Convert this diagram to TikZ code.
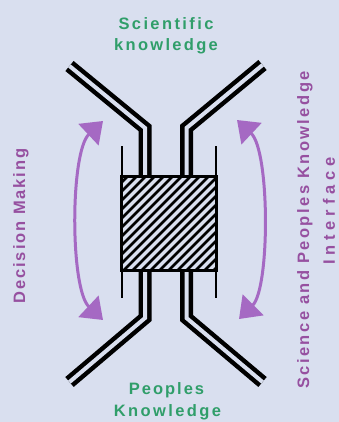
\documentclass[tikz,border=0pt]{standalone}
\usepackage{fontspec}
\setmainfont{Liberation Sans}
\usetikzlibrary{arrows.meta}
\definecolor{bgc}{RGB}{217,223,239}
\definecolor{greenc}{RGB}{48,158,106}
\definecolor{arrowc}{RGB}{165,105,195}
\definecolor{purpc}{RGB}{150,80,160}
\begin{document}
\begin{tikzpicture}[x=1pt,y=-1pt,
  tube/.style={draw=black, line width=4.5pt, double=bgc, double distance=4pt, line join=miter, line cap=butt},
  thinline/.style={draw=black, line width=1.2pt},
  hatchline/.style={draw=black, line width=2.8pt},
  swing/.style={draw=arrowc, line width=3pt, {Triangle[length=20pt,width=29pt]}-{Triangle[length=20pt,width=29pt]}},
  lbl/.style={inner sep=0pt, font=\bfseries\fontsize{16.5}{19}\selectfont}
]
\fill[bgc] (0,0) rectangle (339,422);
\useasboundingbox (0,0) rectangle (339,422);

% tubes
\coordinate (lt) at (69.5,66);
\coordinate (lb1) at (145,128);
\coordinate (lb2) at (145,318);
\coordinate (lbo) at (69.5,382);
\coordinate (rt) at (262.5,65);
\coordinate (rb1) at (186.5,128);
\coordinate (rb2) at (186.5,318);
\coordinate (rbo) at (262.5,382);
\draw[tube] (lt) -- (lb1) -- (lb2) -- (lbo);
\draw[tube] (rt) -- (rb1) -- (rb2) -- (rbo);

% thin guide lines
\coordinate (tl1) at (122,146);
\coordinate (tl2) at (122,298);
\coordinate (tr1) at (216,146);
\coordinate (tr2) at (216,298);
\draw[thinline] (tl1) -- (tl2);
\draw[thinline] (tr1) -- (tr2);

% hatched core
\node[draw=black, line width=2.2pt, fill=bgc, minimum width=94pt, minimum height=93pt, inner sep=0pt] (core) at (169,223.5) {};
\begin{scope}
\clip (core.south west) rectangle (core.north east);
\foreach \a in {14,23,...,230} \draw[hatchline] (\a,272) -- ++(100,-100);
\end{scope}
\draw[draw=black, line width=2.2pt] (core.south west) rectangle (core.north east);

% arrows
\coordinate (la1) at (103,121);
\coordinate (la2) at (103,320);
\coordinate (ra1) at (237,120);
\coordinate (ra2) at (239,319);
\draw[swing] (la1) .. controls (70,152) and (70,289) .. (la2);
\draw[swing] (ra1) .. controls (270,151) and (270,288) .. (ra2);

% labels
\node[lbl, text=greenc, anchor=base] (sci1) at (166,30) {\addfontfeature{LetterSpace=14.5}Scientific};
\node[lbl, text=greenc, anchor=base] (sci2) at (166,51) {\addfontfeature{LetterSpace=14}knowledge};
\node[lbl, text=greenc, anchor=base] (peo1) at (166.5,394) {\addfontfeature{LetterSpace=12}Peoples};
\node[lbl, text=greenc, anchor=base] (peo2) at (167.5,416) {\addfontfeature{LetterSpace=14.5}Knowledge};
\node[lbl, text=purpc, rotate=90] (dm) at (21,226) {\addfontfeature{LetterSpace=11.5}Decision Making};
\node[lbl, text=purpc, rotate=90] (spk1) at (305,230) {\addfontfeature{LetterSpace=14.7}Science and Peoples Knowledge};
\node[lbl, text=purpc, rotate=90] (spk2) at (329,211) {\addfontfeature{LetterSpace=29}Interface};
\end{tikzpicture}
\end{document}
